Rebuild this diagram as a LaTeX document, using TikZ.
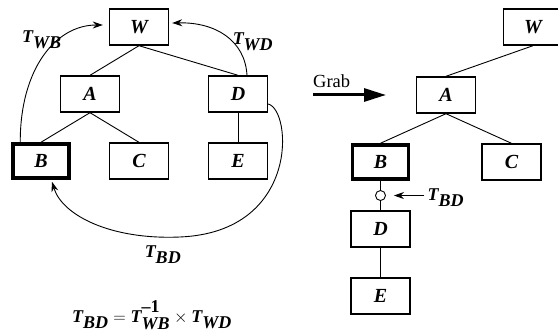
\documentclass[tikz,border=0pt]{standalone}
\usepackage{fontspec}
\setmainfont{Liberation Serif}
\usetikzlibrary{positioning, arrows.meta}

\newcommand{\Tsub}[1]{$\textbf{\textit{T}}_{\raisebox{-2.5pt}{\textbf{\textit{#1}}}}$}

\begin{document}
\begin{tikzpicture}[
        x=1pt, y=-1pt,
        level distance=67pt,
        level 1/.style={sibling distance=148pt},
        level 2/.style={sibling distance=98pt},
        parent anchor=south, child anchor=north,
        edge from parent/.style={draw, line width=0.9pt},
        every node/.style={font=\fontsize{18}{21}\selectfont\bfseries\itshape},
        box/.style={draw, line width=1.4pt, minimum width=59pt, minimum height=36pt, inner sep=0pt,
            font=\fontsize{20}{24}\selectfont\bfseries\itshape},
        every child node/.style={box},
        grabbed/.style={box, line width=3.5pt, minimum width=56pt, minimum height=34pt},
        joint/.style={circle, draw, line width=0.9pt, fill=white, minimum size=10pt, inner sep=0pt},
        bent/.style={line width=0.9pt, -{Stealth[length=10pt, width=7pt]}},
        grabarrow/.style={line width=3pt, -{Triangle[length=22pt, width=13pt]}}
    ]
    \clip (0,0) rectangle (558,334);

    % before the grab
    \node (W) [box] at (139,27) {W}
        child[xshift=25pt] { node (A) {A}
            child { node (B) [grabbed] {B} }
            child { node (C) {C} }
        }
        child[xshift=25pt] { node (D) {D}
            child { node (E) {E} }
        };

    \draw[bent] ([xshift=9pt]B.north west) .. controls (20,70) and (55,25) .. ([xshift=-6pt, yshift=2pt]W.west);
    \draw[bent] ([xshift=9pt]D.north) .. controls (245,40) and (215,22) .. ([xshift=3pt, yshift=4pt]W.east);
    \coordinate (loop) at (180,237);
    \draw[bent] ([yshift=-10pt]D.east) .. controls (292,110) and (300,232) .. (loop)
        .. controls (110,240) and (62,215) .. ([xshift=11pt, yshift=-2pt]B.south);

    \node (twb) at (42,40) {\Tsub{WB}};
    \node (twd) at (253,42) {\Tsub{WD}};
    \node (tbd) at (163,255) {\Tsub{BD}};
    \node (eq) at (152,315) {\Tsub{BD}${}={}\textbf{\textit{T}}^{\raisebox{3pt}{\textbf{\textup{--1}}}}_{\raisebox{-2.5pt}{\textbf{\textit{WB}}}}\times{}$\Tsub{WD}};

    % grab arrow
    \coordinate (gs) at (313,95);
    \coordinate (ge) at (386,95);
    \draw[grabarrow] (gs) -- (ge);
    \node (grab) [anchor=base west, inner sep=0pt, font=\fontsize{18.5}{22}\selectfont\mdseries\upshape] at (313,88) {Grab};

    % after the grab
    \node (W2) [box] at (533,27) {W};
    \begin{scope}[level 1/.style={sibling distance=131pt}]
    \node (A2) [box] at (446,95) {A}
        child { node (B2) [grabbed] {B}
            child { node (D2) {D}
                child { node (E2) {E} }
                edge from parent node[joint] (J) {}
            }
        }
        child { node (C2) {C} };
    \end{scope}
    \draw[line width=0.9pt] (W2.south) -- (A2.north);

    \node (tbd2) [anchor=west] at (424,198) {\Tsub{BD}};
    \draw[bent] (tbd2.west |- J.east) -- ([xshift=8pt]J.east);
\end{tikzpicture}
\end{document}
